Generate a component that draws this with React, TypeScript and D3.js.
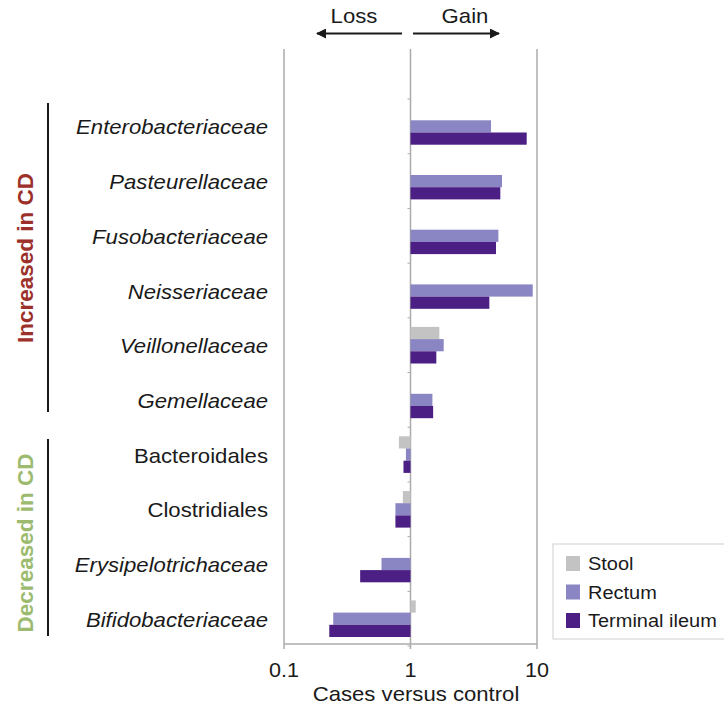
import * as d3 from "d3";

// categories, top to bottom (first slot is empty in the original figure)
const categories = [
  "Enterobacteriaceae",
  "Pasteurellaceae",
  "Fusobacteriaceae",
  "Neisseriaceae",
  "Veillonellaceae",
  "Gemellaceae",
  "Bacteroidales",
  "Clostridiales",
  "Erysipelotrichaceae",
  "Bifidobacteriaceae",
];
const italicCats = [true, true, true, true, true, true, false, false, true, true];

const seriesNames = ["Stool", "Rectum", "Terminal ileum"];
const seriesColors = ["#c3c3c3", "#8a85c3", "#4b1f84"];

// fold change, cases versus control (null = not shown)
const stool = [null, null, null, null, 1.69, null, 0.81, 0.87, null, 1.1];
const rectum = [4.33, 5.29, 4.95, 9.25, 1.83, 1.49, 0.92, 0.76, 0.59, 0.245];
const ileum = [8.29, 5.13, 4.74, 4.2, 1.6, 1.51, 0.88, 0.76, 0.4, 0.228];

const xTicks = [0.1, 1, 10];
const xTickLabels = ["0.1", "1", "10"];

const W = 724;
const H = 705;
const SX = 1.08; // the original figure is slightly stretched horizontally
const FONT = "'Liberation Sans', Arial, sans-serif";

const SText = ({ x, y, size, anchor = "start", italic = false, fill = "#1a1a1a", children }: any) => (
  <g transform={`translate(${x},${y}) scale(${SX},1)`}>
    <text
      textAnchor={anchor}
      fontSize={size}
      fontStyle={italic ? "italic" : "normal"}
      fontFamily={FONT}
      fill={fill}
    >
      {children}
    </text>
  </g>
);

export default function App() {
  const x = d3.scaleLog().domain([0.1, 10]).range([284, 537]);
  const y = d3
    .scaleBand()
    .domain(["", ...categories])
    .range([44.35, 646.05])
    .paddingInner(0)
    .paddingOuter(0);
  const step = y.step();
  const inner = d3
    .scaleBand()
    .domain(seriesNames)
    .range([step / 2 - 18.3, step / 2 + 18.3]);

  const series = [stool, rectum, ileum];
  const gridTop = 49;
  const axisY = 644;
  const gridColor = "#ababab";

  return (
    <svg
      width={W}
      height={H}
      style={{ position: "absolute", left: 0, top: 0, background: "#fff" }}
    >
      {/* vertical gridlines */}
      {xTicks.map((t) => (
        <line
          key={t}
          x1={x(t)}
          x2={x(t)}
          y1={gridTop}
          y2={axisY + 5}
          stroke={gridColor}
          strokeWidth={1.5}
        />
      ))}
      {/* bottom axis */}
      <line x1={x(0.1)} x2={x(10)} y1={axisY} y2={axisY} stroke={gridColor} strokeWidth={1.5} />
      {/* small category ticks on the 1 line */}
      {["", ...categories].map((c) => (
        <line
          key={"t" + c}
          x1={x(1) - 3}
          x2={x(1)}
          y1={(y(c) as number) + step}
          y2={(y(c) as number) + step}
          stroke={gridColor}
          strokeWidth={1}
        />
      ))}

      {/* bars */}
      {categories.map((c, i) =>
        series.map((s, j) => {
          const v = s[i];
          if (v == null) return null;
          const x0 = Math.min(x(1), x(v));
          const x1 = Math.max(x(1), x(v));
          return (
            <rect
              key={c + j}
              x={x0}
              y={(y(c) as number) + (inner(seriesNames[j]) as number)}
              width={x1 - x0}
              height={inner.bandwidth()}
              fill={seriesColors[j]}
            />
          );
        })
      )}

      {/* category labels */}
      {categories.map((c, i) => (
        <SText
          key={"l" + c}
          x={268}
          y={(y(c) as number) + step / 2 + 8}
          size={20.5}
          anchor="end"
          italic={italicCats[i]}
        >
          {c}
        </SText>
      ))}

      {/* tick labels */}
      {xTicks.map((t, i) => (
        <SText key={"x" + t} x={x(t)} y={677} size={20} anchor="middle">
          {xTickLabels[i]}
        </SText>
      ))}
      <SText x={416} y={701} size={20.5} anchor="middle">
        Cases versus control
      </SText>

      {/* loss / gain arrows */}
      <defs>
        <marker id="ah" viewBox="0 0 10 10" refX={9} refY={5} markerWidth={5} markerHeight={5} orient="auto-start-reverse">
          <path d="M0,0 L10,5 L0,10 z" fill="#1a1a1a" />
        </marker>
      </defs>
      <line x1={402} x2={317} y1={33.5} y2={33.5} stroke="#1a1a1a" strokeWidth={2} markerEnd="url(#ah)" />
      <line x1={413} x2={499} y1={33.5} y2={33.5} stroke="#1a1a1a" strokeWidth={2} markerEnd="url(#ah)" />
      <SText x={354} y={23} size={20.5} anchor="middle">
        Loss
      </SText>
      <SText x={465} y={23} size={20.5} anchor="middle">
        Gain
      </SText>

      {/* group brackets */}
      <line x1={48} x2={48} y1={103} y2={412} stroke="#1a1a1a" strokeWidth={2} />
      <line x1={48} x2={48} y1={439} y2={636} stroke="#1a1a1a" strokeWidth={2} />
      <text
        transform="translate(33,258) rotate(-90)"
        textAnchor="middle"
        fontSize={22.5}
        fontWeight="bold"
        fontFamily={FONT}
        fill="#9c302b"
      >
        Increased in CD
      </text>
      <text
        transform="translate(33,543) rotate(-90)"
        textAnchor="middle"
        fontSize={22.5}
        fontWeight="bold"
        fontFamily={FONT}
        fill="#9cbb6f"
      >
        Decreased in CD
      </text>

      {/* legend */}
      <rect x={553} y={544} width={190} height={95} fill="#fff" stroke="#d0d0d0" strokeWidth={1} />
      {seriesNames.map((s, i) => (
        <g key={"lg" + s}>
          <rect x={566} y={556 + i * 28.5} width={14} height={15} fill={seriesColors[i]} />
          <SText x={588} y={570 + i * 28.5} size={18.5}>
            {s}
          </SText>
        </g>
      ))}
    </svg>
  );
}
